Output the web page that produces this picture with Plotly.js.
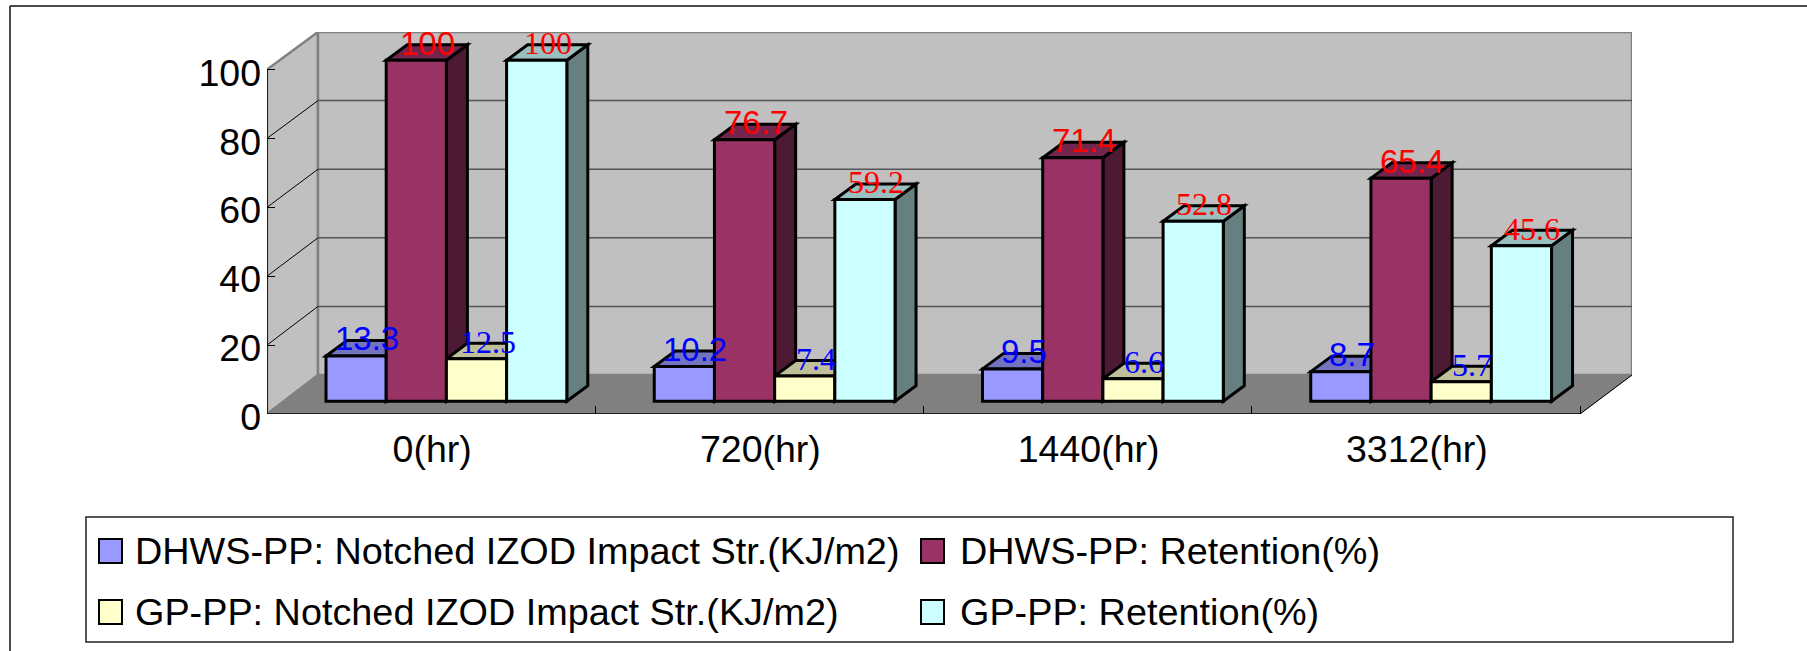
<!DOCTYPE html>
<html><head><meta charset="utf-8">
<script src="https://cdn.plot.ly/plotly-3.0.1.min.js"></script>
<style>html,body{margin:0;padding:0;background:#fff}</style></head>
<body><div id="chart" style="width:1807px;height:651px"></div>
<script>
// ---- data ----
const categories = ['0(hr)', '720(hr)', '1440(hr)', '3312(hr)'];
const dhwsImpact = [13.3, 10.2, 9.5, 8.7];
const dhwsRetention = [100, 76.7, 71.4, 65.4];
const gpImpact = [12.5, 7.4, 6.6, 5.7];
const gpRetention = [100, 59.2, 52.8, 45.6];
const yTicks = [0, 20, 40, 60, 80, 100];
const seriesNames = [
  'DHWS-PP: Notched IZOD Impact Str.(KJ/m2)',
  'DHWS-PP: Retention(%)',
  'GP-PP: Notched IZOD Impact Str.(KJ/m2)',
  'GP-PP: Retention(%)'
];
const seriesValues = [dhwsImpact, dhwsRetention, gpImpact, gpRetention];
const frontColors = ['#9999FF', '#993366', '#FFFFCC', '#CCFFFF'];
const topColors   = ['#7373BF', '#73264D', '#BFBF99', '#99BFBF'];
const sideColors  = ['#4D4D80', '#4D1A33', '#808066', '#668080'];
const labelColors = ['#0000FF', '#FF0000', '#0000FF', '#FF0000'];
const labelFonts  = ['Liberation Sans', 'Liberation Sans', 'Liberation Serif', 'Liberation Serif'];
const labelSizes  = [33, 33, 32, 32];

// ---- geometry (figure pixels) ----
const W = 1807, H = 651;
const xFront0 = 267, xFront1 = 1580, xBack1 = 1632, yFloor = 414, yTop = 32, y100 = 69.5;
const catW = (xFront1 - xFront0) / categories.length;
const yUnit = (yFloor - y100) / 100;
const wallDx = 51, wallDy = 39;          // depth of the floor/walls, px
const barDx = 21, barDy = 15.5;          // depth of a bar, px
const barLeftGap = 59, barW = 60.2, barBasePx = 12.7, barScale = 3.41 / yUnit;
const dx = p => p / catW, dy = p => p / yUnit;
const px = p => p / W, py = p => 1 - p / H;
const xMin = -0.5, xMax = -0.5 + (xBack1 - xFront0) / catW;
const baseY = dy(barBasePx);
const yMax = (yFloor - yTop) / yUnit;
const backScale = (yFloor - wallDy - yTop) / 100 / yUnit;

const poly = (pts, fill, line, width) => ({
  type: 'path', layer: 'below', xref: 'x', yref: 'y',
  path: 'M' + pts.map(p => p[0] + ',' + p[1]).join('L') + 'Z',
  fillcolor: fill, line: { color: line || fill, width: width === undefined ? 1 : width }
});
const seg = (a, b, color, width) => ({
  type: 'line', layer: 'below', xref: 'x', yref: 'y',
  x0: a[0], y0: a[1], x1: b[0], y1: b[1], line: { color, width }
});

const shapes = [];
const wdx = dx(wallDx), wdy = dy(wallDy);
const xR = xMin + dx(xFront1 - xFront0);
const topV = 100;
// walls and floor
shapes.push(poly([[xMin, 0], [xMin + wdx, wdy], [xMin + wdx, yMax], [xMin, topV]], '#C0C0C0', '#808080', 2.5));
shapes.push(poly([[xMin + wdx, wdy], [xMax, wdy], [xMax, yMax], [xMin + wdx, yMax]], '#C0C0C0', '#808080', 2.5));
shapes.push(poly([[xMin, 0], [xR, 0], [xMax, wdy], [xMin + wdx, wdy]], '#808080', '#808080', 1));
// grid lines
yTicks.filter(t => t > 0 && t < 100).forEach(t => {
  shapes.push(seg([xMin, t], [xMin + wdx, t * backScale + wdy], '#000000', 1));
  shapes.push(seg([xMin + wdx, t * backScale + wdy], [xMax, t * backScale + wdy], '#555555', 1.5));
});
shapes.push(seg([xMin, 0], [xMin, topV], '#000000', 1.5));
shapes.push(seg([xMin, 0], [xR, 0], '#000000', 1.5));
shapes.push(seg([xR, 0], [xMax, wdy], '#000000', 1));

// bar tops and sides, in drawing order, below the bar fronts
const annotations = [];
const barLine = 3;
const barTraces = seriesValues.map((vals, s) => {
  const off = dx(barLeftGap) - 0.5 + s * dx(barW);
  vals.forEach((v, i) => {
    const xl = i + off, xr = xl + dx(barW), yb = baseY, yt = baseY + v * barScale;
    const bx = dx(barDx), by = dy(barDy);
    shapes.push(poly([[xr, yb], [xr + bx, yb + by], [xr + bx, yt + by], [xr, yt]], sideColors[s], '#000000', barLine));
    shapes.push(poly([[xl, yt], [xr, yt], [xr + bx, yt + by], [xl + bx, yt + by]], topColors[s], '#000000', barLine));
    annotations.push({
      x: (xl + xr) / 2 + dx(11), y: yt + dy(17), xref: 'x', yref: 'y', text: String(v),
      showarrow: false, xanchor: 'center', yanchor: 'middle',
      font: { family: labelFonts[s], size: labelSizes[s], color: labelColors[s] }
    });
  });
  return {
    type: 'bar', name: seriesNames[s], x: categories, y: vals.map(v => v * barScale),
    base: baseY, offset: off, width: dx(barW), showlegend: false,
    marker: { color: frontColors[s], line: { color: '#000000', width: barLine } }
  };
});

// outer frame
shapes.push({ type: 'line', xref: 'paper', yref: 'paper', x0: px(10), y0: py(6), x1: 1, y1: py(6), line: { color: '#111', width: 1.5 } });
shapes.push({ type: 'line', xref: 'paper', yref: 'paper', x0: px(10), y0: py(6), x1: px(10), y1: 0, line: { color: '#111', width: 1.5 } });

// legend box
shapes.push({ type: 'rect', xref: 'paper', yref: 'paper', x0: px(86), y0: py(517), x1: px(1733), y1: py(642), line: { color: '#222', width: 1.5 }, fillcolor: '#fff' });
const legendSwatchX = [99, 921, 99, 921], legendTextX = [133, 958, 133, 958], legendY = [551, 551, 612, 612];
seriesNames.forEach((name, s) => {
  shapes.push({ type: 'rect', xref: 'paper', yref: 'paper',
    x0: px(legendSwatchX[s]), x1: px(legendSwatchX[s] + 23), y0: py(legendY[s] - 12), y1: py(legendY[s] + 12),
    fillcolor: frontColors[s], line: { color: '#000', width: 2 } });
  annotations.push({ xref: 'paper', yref: 'paper', x: px(legendTextX[s]), y: py(legendY[s]), text: name,
    showarrow: false, xanchor: 'left', yanchor: 'middle',
    font: { family: 'Liberation Sans', size: 37.8, color: '#000' } });
});

Plotly.newPlot('chart', barTraces, {
  width: W, height: H, autosize: false,
  margin: { l: 0, r: 0, t: 0, b: 0, pad: 0 },
  paper_bgcolor: '#ffffff', plot_bgcolor: 'rgba(0,0,0,0)',
  barmode: 'overlay', showlegend: false,
  xaxis: {
    type: 'category', categoryorder: 'array', categoryarray: categories, tickvals: categories,
    domain: [px(xFront0), px(xBack1)], range: [xMin, xMax], fixedrange: true,
    showgrid: false, zeroline: false, showline: false,
    ticks: 'inside', ticklen: 8, tickwidth: 1, tickcolor: '#000', tickson: 'boundaries',
    ticklabelstandoff: 9, ticklabelshift: 1,
    tickfont: { family: 'Liberation Sans', size: 37.5, color: '#000' }
  },
  yaxis: {
    domain: [py(yFloor), py(yTop)], range: [0, yMax], fixedrange: true,
    tickmode: 'array', tickvals: yTicks, ticktext: yTicks.map(String),
    showgrid: false, zeroline: false, showline: false,
    ticks: 'inside', ticklen: 8, tickwidth: 1, tickcolor: '#000',
    ticklabelstandoff: 5, ticklabelshift: 3,
    tickfont: { family: 'Liberation Sans', size: 37.5, color: '#000' }
  },
  shapes, annotations
}, { displayModeBar: false, staticPlot: true });
</script></body></html>
